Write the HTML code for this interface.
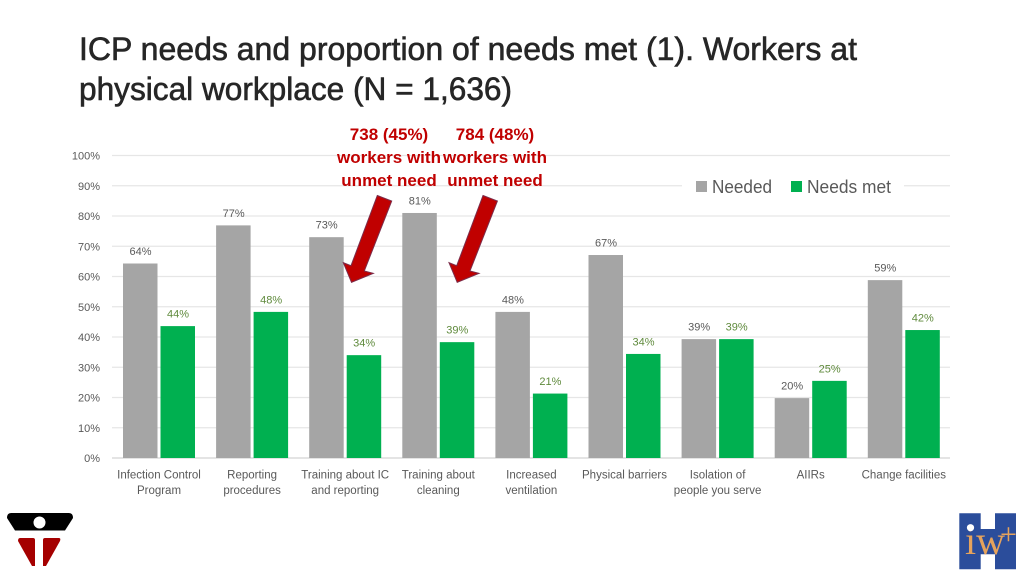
<!DOCTYPE html>
<html lang="en">
<head>
<meta charset="utf-8">
<title>ICP needs and proportion of needs met</title>
<style>
html,body{margin:0;padding:0;background:#fff;width:1024px;height:576px;overflow:hidden}
svg{display:block;font-family:"Liberation Sans",sans-serif}
</style>
</head>
<body>
<svg id="slide" xmlns="http://www.w3.org/2000/svg" width="1024" height="576" viewBox="0 0 1024 576">
  <rect width="1024" height="576" fill="#ffffff"/>
  <g fill="#262626" stroke="#262626" stroke-width="0.6" font-size="32">
    <text x="79" y="60" textLength="778" lengthAdjust="spacingAndGlyphs">ICP needs and proportion of needs met (1). Workers at</text>
    <text x="79" y="100" textLength="433" lengthAdjust="spacingAndGlyphs">physical workplace (N = 1,636)</text>
  </g>
  <g id="grid"></g>
  <g id="yticks"></g>
  <g id="bars"></g>
  <g id="values"></g>
  <g id="cats"></g>

  <g>
    <rect x="682" y="176" width="222" height="22" fill="#ffffff"/>
    <rect x="696" y="181" width="11" height="11" fill="#a5a5a5"/>
    <text x="712" y="193" font-size="18" fill="#595959" textLength="60" lengthAdjust="spacingAndGlyphs">Needed</text>
    <rect x="791" y="181" width="11" height="11" fill="#00b050"/>
    <text x="807" y="193" font-size="18" fill="#595959" textLength="84" lengthAdjust="spacingAndGlyphs">Needs met</text>
  </g>

  <g fill="#c00000" font-size="17" font-weight="700" text-anchor="middle">
    <text x="389" y="140">738 (45%)</text>
    <text x="389" y="163">workers with</text>
    <text x="389" y="186">unmet need</text>
  </g>
  <g fill="#c00000" font-size="17" font-weight="700" text-anchor="middle">
    <text x="495" y="140">784 (48%)</text>
    <text x="495" y="163">workers with</text>
    <text x="495" y="186">unmet need</text>
  </g>
  <polygon points="377.3,195.5 391.7,201 364.3,271 373.3,273.3 351.5,282.3 343.3,262.7 351,265.7" fill="#c00000" stroke="#7b2c4a" stroke-width="1"/>
  <polygon points="483,195.5 497.4,201 470,271 479,273.3 457.2,282.3 449,262.7 456.7,265.7" fill="#c00000" stroke="#7b2c4a" stroke-width="1"/>

  <g>
    <path d="M11 513H69Q73 513 73 518L65 530.5H15L7 518Q7 513 11 513Z" fill="#000000"/>
    <circle cx="39.5" cy="522.5" r="6" fill="#ffffff"/>
    <path d="M20 538H33Q35 538 35 540V566H32L18 541Q18 538 20 538Z" fill="#a50000"/>
    <path d="M45 538H59Q61 538 60 541L46 566H43V540Q43 538 45 538Z" fill="#a50000"/>
  </g>

  <g>
    <path d="M959.3 513.3H980.7V529H995V513.3H1016V569.3H995V554.3H980.7V569.3H959.3Z" fill="#2b4d9b"/>
    <text x="965" y="554" font-family="'Liberation Serif',serif" font-size="40" fill="#e6a35c" textLength="40" lengthAdjust="spacingAndGlyphs">iw</text>
    <circle cx="970.5" cy="527.7" r="3.6" fill="#ffffff"/>
    <text x="1000" y="544" font-family="'Liberation Serif',serif" font-size="30" fill="#e6a35c">+</text>
  </g>
</svg>
<script>
var categories = [
  ["Infection Control", "Program"],
  ["Reporting", "procedures"],
  ["Training about IC", "and reporting"],
  ["Training about", "cleaning"],
  ["Increased", "ventilation"],
  ["Physical barriers"],
  ["Isolation of", "people you serve"],
  ["AIIRs"],
  ["Change facilities"]
];
var needed = [64.3, 76.9, 73, 81, 48.3, 67.1, 39.3, 19.8, 58.8];
var needsMet = [43.6, 48.3, 34, 38.3, 21.3, 34.4, 39.3, 25.5, 42.3];
var neededLabels = ["64%", "77%", "73%", "81%", "48%", "67%", "39%", "20%", "59%"];
var needsMetLabels = ["44%", "48%", "34%", "39%", "21%", "34%", "39%", "25%", "42%"];
var yTicks = [0, 10, 20, 30, 40, 50, 60, 70, 80, 90, 100];

var NS = "http://www.w3.org/2000/svg";
function yScale(v) { return 458 - v * 3.025; }
function xScale(i) { return 159 + i * 93.1; }
function make(tag, parent, attrs, txt) {
  var el = document.createElementNS(NS, tag);
  for (var k in attrs) el.setAttribute(k, attrs[k]);
  if (txt !== undefined) el.textContent = txt;
  document.getElementById(parent).appendChild(el);
  return el;
}
yTicks.forEach(function (t) {
  var y = yScale(t);
  var line = make("line", "grid", { x1: 112, x2: 950, y1: y, y2: y, stroke: t === 0 ? "#d4d4d4" : "#e6e6e6", "stroke-width": 1.3 });
  
  
  var lab = make("text", "yticks", { x: 100, y: y + 4, "text-anchor": "end", "font-size": 11, fill: "#595959" }, t + "%");
  
  
});
categories.forEach(function (lines, i) {
  var cx = xScale(i);
  var topA = yScale(needed[i]);
  var topB = yScale(needsMet[i]);
  var a = make("rect", "bars", { x: cx - 36, y: topA, width: 34.5, height: yScale(0) - topA, fill: "#a5a5a5" });
  
  
  var b = make("rect", "bars", { x: cx + 1.5, y: topB, width: 34.5, height: yScale(0) - topB, fill: "#00b050" });
  
  
  var la = make("text", "values", { x: cx - 18.5, y: topA - 8.5, "text-anchor": "middle", "font-size": 11, fill: "#595959" }, neededLabels[i]);
  
  
  var lb = make("text", "values", { x: cx + 19, y: topB - 8.5, "text-anchor": "middle", "font-size": 11, fill: "#5f8a3c" }, needsMetLabels[i]);
  
  
  lines.forEach(function (s, j) {
    var c = make("text", "cats", { x: cx, y: 478.5 + j * 15.5, "text-anchor": "middle", "font-size": 11.5, fill: "#595959" }, s);
    
    
  });
});
</script>
</body>
</html>
